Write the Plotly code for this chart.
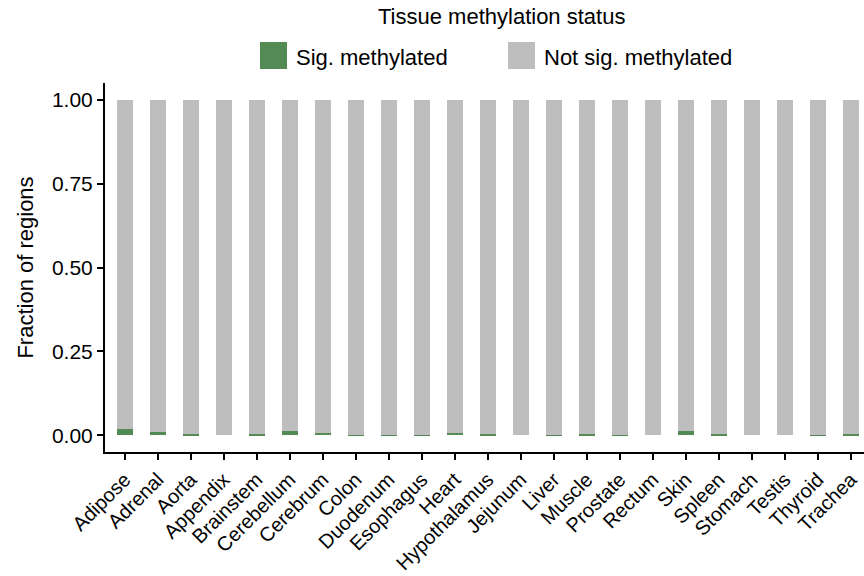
import plotly.graph_objects as go

tissues = ["Adipose", "Adrenal", "Aorta", "Appendix", "Brainstem", "Cerebellum",
           "Cerebrum", "Colon", "Duodenum", "Esophagus", "Heart", "Hypothalamus",
           "Jejunum", "Liver", "Muscle", "Prostate", "Rectum", "Skin", "Spleen",
           "Stomach", "Testis", "Thyroid", "Trachea"]
sig_methylated = [0.018, 0.009, 0.004, 0.0, 0.004, 0.014, 0.007, 0.002, 0.002,
                  0.002, 0.006, 0.003, 0.0, 0.002, 0.003, 0.002, 0.0, 0.013,
                  0.005, 0.0, 0.0, 0.002, 0.003]
not_sig_methylated = [1.0 - v for v in sig_methylated]
y_ticks = [0.0, 0.25, 0.5, 0.75, 1.0]
y_tick_labels = ["0.00", "0.25", "0.50", "0.75", "1.00"]

GREEN = "#548B54"
GREY = "#BEBEBE"
FONT = "Liberation Sans, Arial, Helvetica, sans-serif"

W, H = 864, 576
L, R, T, B = 105, 0, 83, 124

fig = go.Figure()
fig.add_trace(go.Bar(x=tissues, y=sig_methylated, name="Sig. methylated",
                     marker=dict(color=GREEN, line=dict(width=0)), width=0.5,
                     showlegend=False))
fig.add_trace(go.Bar(x=tissues, y=not_sig_methylated, name="Not sig. methylated",
                     marker=dict(color=GREY, line=dict(width=0)), width=0.5,
                     showlegend=False))

# pixel -> paper helpers for the hand-built legend
pw, ph = W - L - R, H - T - B
def px(x):
    return (x - L) / pw
def py(y):
    return (H - B - y) / ph

shapes = []
annotations = []
for x0, col, label in [(260, GREEN, "Sig. methylated"), (508, GREY, "Not sig. methylated")]:
    shapes.append(dict(type="rect", xref="paper", yref="paper",
                       x0=px(x0), x1=px(x0 + 27), y0=py(69), y1=py(42),
                       fillcolor=col, line=dict(width=0)))
    annotations.append(dict(xref="paper", yref="paper", x=px(x0 + 34), y=py(57),
                            text=label, showarrow=False, xanchor="left", yanchor="middle",
                            font=dict(size=22, color="black", family=FONT)))
annotations.append(dict(xref="paper", yref="paper", x=px(501), y=py(17),
                        text="Tissue methylation status", showarrow=False,
                        xanchor="center", yanchor="middle",
                        font=dict(size=22, color="black", family=FONT)))

fig.update_layout(
    width=W, height=H,
    margin=dict(l=L, r=R, t=T, b=B, autoexpand=False),
    barmode="stack",
    plot_bgcolor="white", paper_bgcolor="white",
    font=dict(family=FONT, color="black", size=21),
    shapes=shapes, annotations=annotations,
    xaxis=dict(range=[-0.6, 22.4], showline=True, linecolor="black", linewidth=2,
               ticks="outside", ticklen=6, tickwidth=2, tickcolor="black",
               tickangle=-45, tickfont=dict(size=20), showgrid=False, zeroline=False,
               automargin=False),
    yaxis=dict(range=[-0.05, 1.05], tickvals=y_ticks, ticktext=y_tick_labels,
               showline=True, linecolor="black", linewidth=2,
               ticks="outside", ticklen=6, tickwidth=2, tickcolor="black",
               tickfont=dict(size=21), showgrid=False, zeroline=False, automargin=False,
               title=dict(text="Fraction of regions", font=dict(size=22), standoff=12)),
)

fig.write_html("out.html")
